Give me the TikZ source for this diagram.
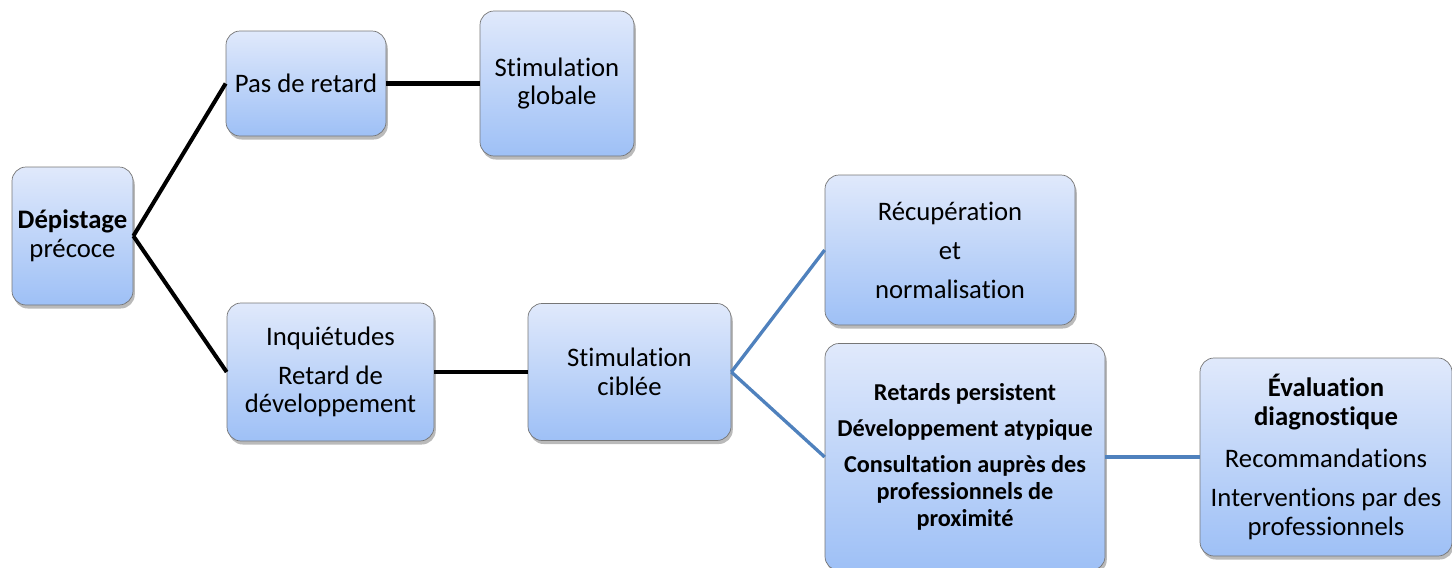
\documentclass[tikz,border=0pt]{standalone}
\usepackage{fontspec}
\setmainfont{Carlito}[Ligatures=NoCommon]
\usetikzlibrary{shadows}
\definecolor{boxtop}{RGB}{224,233,251}
\definecolor{boxbot}{RGB}{158,192,246}
\definecolor{boxedge}{RGB}{118,118,118}
\definecolor{steel}{RGB}{79,129,189}
\tikzset{
  box/.style={draw=boxedge, thin, rounded corners=8pt, top color=boxtop, bottom color=boxbot, align=center, inner sep=0pt, font=\fontsize{15.2}{16.2}\selectfont, drop shadow={shadow xshift=1pt, shadow yshift=-2pt, opacity=0.45, fill=black!60}},
  blackline/.style={line width=2.3pt, draw=black},
  blueline/.style={line width=1.9pt, draw=steel}
}

\begin{document}
\begin{tikzpicture}
    \useasboundingbox (0,0) rectangle (29.04,-11.34);
    \node[box, minimum width=2.42cm, minimum height=2.76cm] (dep) at (1.45,-4.72) {\textbf{Dépistage}\\ précoce};
    \node[box, minimum width=3.2cm, minimum height=2.1cm] (pas) at (6.12,-1.67) {Pas de retard};
    \node[box, minimum width=3.08cm, minimum height=2.9cm] (glob) at (11.14,-1.67) {Stimulation\\ globale};
    \node[box, minimum width=4.14cm, minimum height=2.76cm] (inq) at (6.61,-7.44) {Inquiétudes\\[6pt] Retard de\\ développement};
    \node[box, minimum width=4.06cm, minimum height=2.74cm] (cib) at (12.59,-7.44) {Stimulation\\ ciblée};
    \node[box, minimum width=5.0cm, minimum height=3.0cm] (recup) at (19.0,-5.0) {Récupération\\[6pt] et\\[6pt] normalisation};
    \node[box, minimum width=5.6cm, minimum height=4.54cm, font=\fontsize{13.8}{15.5}\selectfont\bfseries] (pers) at (19.3,-9.14) {Retards persistent\\[5pt] Développement atypique\\[5pt] Consultation auprès des\\ professionnels de\\ proximité};
    \node[box, minimum width=5.04cm, minimum height=3.96cm] (eval) at (26.52,-9.14) {\textbf{Évaluation}\\ \textbf{diagnostique}\\[8pt] Recommandations\\[6pt] Interventions par des\\ professionnels};
    \draw[blackline] (dep.east) -- (pas.west);
    \draw[blackline] (dep.east) -- (inq.west);
    \draw[blackline] (pas) -- (glob);
    \draw[blackline] (inq) -- (cib);
    \draw[blueline] (cib.east) -- (recup.west);
    \draw[blueline] (cib.east) -- (pers.west);
    \draw[blueline] (pers) -- (eval);
\end{tikzpicture}
\end{document}
